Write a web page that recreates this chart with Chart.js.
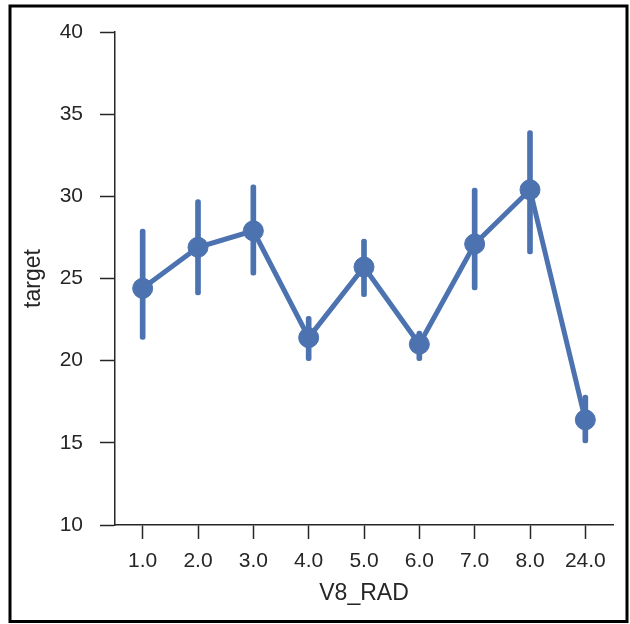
<!DOCTYPE html>
<html>
<head>
<meta charset="utf-8">
<script src="https://cdn.jsdelivr.net/npm/chart.js@4"></script>
<style>
  html, body { margin: 0; padding: 0; background: #fff; }
  canvas { display: block; }
</style>
</head>
<body>
<canvas id="myChart" width="630" height="624"></canvas>
<script>
// categories of V8_RAD
var categories = ['1.0', '2.0', '3.0', '4.0', '5.0', '6.0', '7.0', '8.0', '24.0'];
// mean of target per category
var means = [24.4, 26.9, 27.9, 21.4, 25.7, 21.0, 27.1, 30.4, 16.4];
// confidence interval ends
var ciLow = [21.3, 24.0, 25.2, 20.0, 23.9, 20.0, 24.3, 26.5, 15.0];
var ciHigh = [28.0, 29.8, 30.7, 22.7, 27.4, 21.8, 30.5, 34.0, 17.9];

var blue = '#4c72b0';
var ink = '#262626';

// floating bars used as error bars
var ciRanges = ciLow.map(function (lo, i) { return [lo, ciHigh[i]]; });

// black frame around the whole figure
var framePlugin = {
  id: 'frame',
  afterDraw: function (chart) {
    var c = chart.ctx;
    c.save();
    c.strokeStyle = '#000';
    c.lineWidth = 3;
    c.strokeRect(10, 6, 617, 615.5);
    c.restore();
  }
};

var ctx = document.getElementById('myChart').getContext('2d');
var chart = new Chart(ctx, {
  type: 'bar',
  data: {
    labels: categories,
    datasets: [{
      type: 'line',
      label: 'target',
      data: means,
      borderColor: blue,
      borderWidth: 5,
      pointRadius: 10,
      pointBorderWidth: 1,
      pointBackgroundColor: blue,
      pointBorderColor: blue,
      tension: 0,
      order: 0
    }, {
      type: 'bar',
      label: 'ci',
      data: ciRanges,
      backgroundColor: blue,
      barThickness: 5,
      borderWidth: 0,
      borderRadius: 2.5,
      borderSkipped: false,
      order: 1
    }]
  },
  options: {
    responsive: false,
    animation: false,
    layout: { padding: { top: 32, right: 17, left: 0, bottom: 0 } },
    plugins: {
      legend: { display: false },
      tooltip: { enabled: false }
    },
    scales: {
      x: {
        offset: true,
        grid: { display: true, drawOnChartArea: false, drawTicks: true, tickLength: 14, tickColor: ink, tickWidth: 1.5, offset: false },
        border: { display: true, color: ink, width: 1.5 },
        ticks: { color: ink, font: { family: 'Liberation Sans, Arial', size: 21 }, padding: 10, maxRotation: 0 },
        title: { display: true, text: 'V8_RAD', color: ink, font: { family: 'Liberation Sans, Arial', size: 23 }, padding: { top: 0, bottom: 17 } },
        afterFit: function (scale) { scale.height = 99; }
      },
      y: {
        min: 10,
        max: 40,
        ticks: { stepSize: 5, color: ink, font: { family: 'Liberation Sans, Arial', size: 21 }, padding: 17 },
        grid: { display: true, drawOnChartArea: false, drawTicks: true, tickLength: 15, tickColor: ink, tickWidth: 1.5 },
        border: { display: true, color: ink, width: 1.5 },
        title: { display: true, text: 'target', color: ink, font: { family: 'Liberation Sans, Arial', size: 23 }, padding: { top: 20, bottom: 0 } },
        afterFit: function (scale) { scale.width = 115; }
      }
    }
  },
  plugins: [framePlugin]
});
</script>
</body>
</html>
